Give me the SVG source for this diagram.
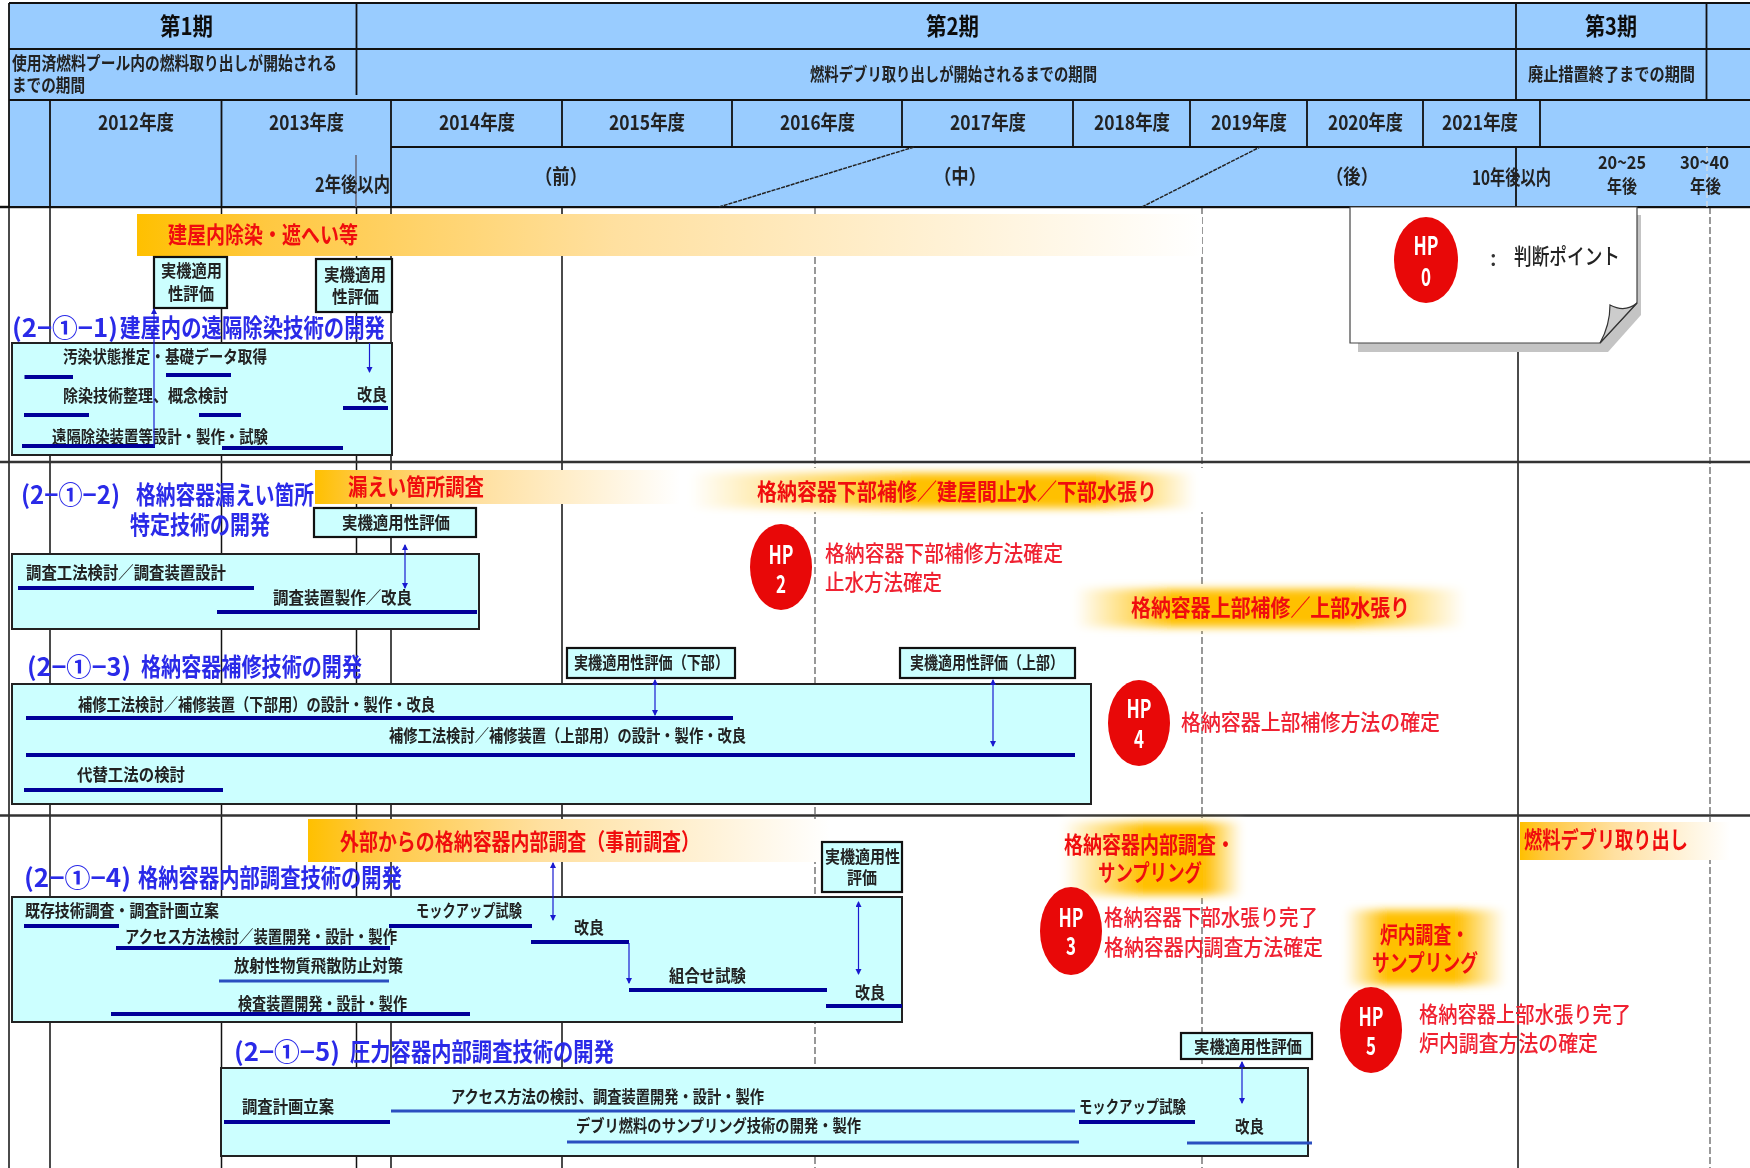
<svg xmlns="http://www.w3.org/2000/svg" width="1750" height="1168" viewBox="0 0 1750 1168">
<style>
text{font-family:"Noto Sans CJK JP","Noto Sans",sans-serif;dominant-baseline:central;filter:url(#soft);transform:translateY(-2px)}
.h{font-size:24px;font-weight:700;fill:#111}
.y{font-size:20px;font-weight:700;fill:#222}
.s{font-size:18px;font-weight:700;fill:#222}
.l{font-size:17px;font-weight:700;fill:#222}
.r{font-size:23px;font-weight:700;fill:#f01010}
.t{font-size:25px;font-weight:700;fill:#2a2ae8}
.d{font-size:22px;font-weight:500;fill:#f02030}
.hp{font-size:25px;font-weight:700;fill:#fff}
.grid{stroke:#111;stroke-width:1.5;fill:none}
.row{stroke:#333;stroke-width:2.5;fill:none}
.dash{stroke:#555;stroke-width:1.2;stroke-dasharray:7 3;fill:none}
.head{stroke:#111;stroke-width:1.8;fill:none}
.box{fill:#ccffff;stroke:#222;stroke-width:2}
.eval{fill:#ccffff;stroke:#111;stroke-width:2.2}
.bar{stroke:#000099;stroke-width:4;fill:none}
.lite{stroke:#2a4fc0;stroke-width:3;fill:none}
.arr{stroke:#1a1ad0;stroke-width:1.2;fill:none;marker-end:url(#ah)}
.arr2{stroke:#1a1ad0;stroke-width:1.2;fill:none;marker-end:url(#ah);marker-start:url(#ah)}
.hpc{fill:#e80808}
</style>
<defs>
<filter id="soft" x="-5%" y="-20%" width="110%" height="140%"><feGaussianBlur stdDeviation="0.45"/></filter>
<filter id="glow" x="-10%" y="-30%" width="120%" height="160%"><feGaussianBlur stdDeviation="4"/></filter>
<linearGradient id="gl"><stop offset="0" stop-color="#ffc000"/><stop offset=".12" stop-color="#ffc840"/><stop offset=".45" stop-color="#ffe0a0"/><stop offset="1" stop-color="#fff"/></linearGradient>
<linearGradient id="gc"><stop offset="0" stop-color="#fff"/><stop offset=".25" stop-color="#ffc000"/><stop offset=".7" stop-color="#ffc000"/><stop offset="1" stop-color="#fff"/></linearGradient>
<linearGradient id="gr"><stop offset="0" stop-color="#fff"/><stop offset=".45" stop-color="#ffc000"/><stop offset=".8" stop-color="#ffc000"/><stop offset="1" stop-color="#fff"/></linearGradient>
<marker id="ah" markerWidth="6" markerHeight="8" refX="5" refY="3" orient="auto-start-reverse" markerUnits="userSpaceOnUse"><path d="M0 0L6 3L0 6z" fill="#1a1ad0"/></marker>
</defs>
<rect width="1750" height="1168" fill="#fff"/>

<g id="grid">
<path class="grid" d="M9 207V1168M50 207V1168M221.500 207V1168M356.500 207V1168M391 207V1168M562 207V1168M1518 207V1168"/>
<path class="dash" d="M815 207V1168M1202 207V1168M1710 207V1168"/>
<path class="row" d="M0 207H1750M0 462H1750M0 815.500H1750"/>
</g>

<g id="header">
<rect x="9" y="3" width="1741" height="204" fill="#99ccff"/>
<path class="head" d="M9 3H1750M9 49H1750M9 100H1750M391 147H1750M0 207H1750M9 3V207M356.500 3V95M1516 3V100M1706.500 3V100M1516 147V207M50 100V207M221.500 100V207M391 100V207M562 100V147M732 100V147M902 100V147M1073 100V147M1190 100V147M1307 100V147M1423 100V147M1540 100V147"/>
<path d="M356 155V207" stroke="#667" stroke-width="1.500"/>
<path d="M1707 147V207" stroke="#ddd" stroke-width="1.200" stroke-dasharray="6 3"/>
<path d="M719 207L914 147M1142 207L1260 147" stroke="#222" stroke-width="1.500" stroke-dasharray="4 1"/>
<text class="h" x="160" y="26" textLength="53" lengthAdjust="spacingAndGlyphs">第1期</text>
<text class="h" x="926" y="26" textLength="53" lengthAdjust="spacingAndGlyphs">第2期</text>
<text class="h" x="1585" y="26" textLength="52" lengthAdjust="spacingAndGlyphs">第3期</text>
<text class="s" x="12" y="64" textLength="325" lengthAdjust="spacingAndGlyphs">使用済燃料プール内の燃料取り出しが開始される</text>
<text class="s" x="12" y="86" textLength="73" lengthAdjust="spacingAndGlyphs">までの期間</text>
<text class="s" x="810" y="75" textLength="287" lengthAdjust="spacingAndGlyphs">燃料デブリ取り出しが開始されるまでの期間</text>
<text class="s" x="1528" y="75" textLength="167" lengthAdjust="spacingAndGlyphs">廃止措置終了までの期間</text>
<text class="y" x="98" y="123" textLength="76" lengthAdjust="spacingAndGlyphs">2012年度</text>
<text class="y" x="269" y="123" textLength="75" lengthAdjust="spacingAndGlyphs">2013年度</text>
<text class="y" x="439" y="123" textLength="76" lengthAdjust="spacingAndGlyphs">2014年度</text>
<text class="y" x="609" y="123" textLength="76" lengthAdjust="spacingAndGlyphs">2015年度</text>
<text class="y" x="780" y="123" textLength="75" lengthAdjust="spacingAndGlyphs">2016年度</text>
<text class="y" x="950" y="123" textLength="76" lengthAdjust="spacingAndGlyphs">2017年度</text>
<text class="y" x="1094" y="123" textLength="76" lengthAdjust="spacingAndGlyphs">2018年度</text>
<text class="y" x="1211" y="123" textLength="76" lengthAdjust="spacingAndGlyphs">2019年度</text>
<text class="y" x="1328" y="123" textLength="75" lengthAdjust="spacingAndGlyphs">2020年度</text>
<text class="y" x="1442" y="123" textLength="76" lengthAdjust="spacingAndGlyphs">2021年度</text>
<text class="y" x="315" y="185" textLength="75" lengthAdjust="spacingAndGlyphs">2年後以内</text>
<text class="y" x="535" y="177" textLength="52" lengthAdjust="spacingAndGlyphs">（前）</text>
<text class="y" x="934" y="177" textLength="52" lengthAdjust="spacingAndGlyphs">（中）</text>
<text class="y" x="1326" y="177" textLength="52" lengthAdjust="spacingAndGlyphs">（後）</text>
<text class="y" x="1472" y="178" textLength="79" lengthAdjust="spacingAndGlyphs">10年後以内</text>
<text class="s" x="1598" y="163" textLength="48" lengthAdjust="spacingAndGlyphs">20~25</text>
<text class="s" x="1607" y="187" textLength="30" lengthAdjust="spacingAndGlyphs">年後</text>
<text class="s" x="1680" y="163" textLength="49" lengthAdjust="spacingAndGlyphs">30~40</text>
<text class="s" x="1690" y="187" textLength="31" lengthAdjust="spacingAndGlyphs">年後</text>
</g>

<g id="legend-card">
<path d="M1358 215H1641V315L1608 352H1358z" fill="#c4c4c4"/>
<path d="M1350 207H1637V303L1600 343H1350z" fill="#fff" stroke="#444" stroke-width="1.200"/>
<path d="M1637 303Q1625 313 1610 305Q1610 325 1600 343z" fill="#ccc" stroke="#333" stroke-width="1.200"/>
<ellipse class="hpc" cx="1426" cy="260" rx="32" ry="43"/>
<text class="hp" x="1413.500" y="246" textLength="25" lengthAdjust="spacingAndGlyphs">HP</text><text class="hp" x="1421" y="277" textLength="10" lengthAdjust="spacingAndGlyphs">0</text>
<text class="d" x="1490" y="258" style="fill:#333">:</text>
<text class="d" x="1514" y="256" textLength="106" lengthAdjust="spacingAndGlyphs" style="fill:#222">判断ポイント</text>
</g>

<g id="band-decon">
<rect x="137" y="214" width="1065" height="42" fill="url(#gl)"/>
<text class="r" x="168" y="235" textLength="190" lengthAdjust="spacingAndGlyphs">建屋内除染・遮へい等</text>
</g>
<g id="band-leak">
<rect x="315" y="470" width="365" height="34" fill="url(#gl)"/>
<text class="r" x="348" y="487" textLength="136" lengthAdjust="spacingAndGlyphs">漏えい箇所調査</text>
</g>
<g id="band-lower">
<rect x="680" y="468" width="530" height="44" fill="#fff"/>
<rect x="690" y="473" width="505" height="35" fill="url(#gr)" filter="url(#glow)"/>
<text class="r" x="757" y="492" textLength="400" lengthAdjust="spacingAndGlyphs">格納容器下部補修／建屋間止水／下部水張り</text>
</g>
<g id="band-upper">
<rect x="1065" y="584" width="410" height="47" fill="#fff"/>
<rect x="1075" y="589" width="390" height="38" fill="url(#gc)" filter="url(#glow)"/>
<text class="r" x="1131" y="608" textLength="279" lengthAdjust="spacingAndGlyphs">格納容器上部補修／上部水張り</text>
</g>
<g id="band-external">
<rect x="308" y="819" width="522" height="43" fill="url(#gl)"/>
<text class="r" x="340" y="842" textLength="360" lengthAdjust="spacingAndGlyphs">外部からの格納容器内部調査（事前調査）</text>
</g>
<g id="band-sampling">
<rect x="1050" y="818" width="205" height="80" fill="#fff"/>
<rect x="1062" y="822" width="180" height="73" fill="url(#gr)" filter="url(#glow)"/>
<text class="r" x="1064" y="845" textLength="171" lengthAdjust="spacingAndGlyphs">格納容器内部調査・</text>
<text class="r" x="1098" y="873" textLength="104" lengthAdjust="spacingAndGlyphs">サンプリング</text>
</g>
<g id="band-core">
<rect x="1338" y="905" width="175" height="84" fill="#fff"/>
<rect x="1345" y="910" width="160" height="75" fill="url(#gc)" filter="url(#glow)"/>
<text class="r" x="1380" y="935" textLength="89" lengthAdjust="spacingAndGlyphs">炉内調査・</text>
<text class="r" x="1372" y="963" textLength="106" lengthAdjust="spacingAndGlyphs">サンプリング</text>
</g>
<g id="band-debris">
<rect x="1520" y="822" width="210" height="38" fill="url(#gl)"/>
<text class="r" x="1524" y="840" textLength="164" lengthAdjust="spacingAndGlyphs">燃料デブリ取り出し</text>
</g>

<g id="task-1">
<text class="t" x="12" y="328"><tspan textLength="106" lengthAdjust="spacingAndGlyphs">(2−①−1)</tspan><tspan x="120" textLength="265" lengthAdjust="spacingAndGlyphs">建屋内の遠隔除染技術の開発</tspan></text>
<rect class="box" x="12" y="343" width="380" height="112"/>
<rect class="eval" x="154" y="257" width="73" height="51"/>
<text class="l" x="161" y="271" textLength="61" lengthAdjust="spacingAndGlyphs">実機適用</text>
<text class="l" x="168" y="294" textLength="46" lengthAdjust="spacingAndGlyphs">性評価</text>
<rect class="eval" x="316" y="259" width="76" height="53"/>
<text class="l" x="324" y="275" textLength="62" lengthAdjust="spacingAndGlyphs">実機適用</text>
<text class="l" x="332" y="297" textLength="47" lengthAdjust="spacingAndGlyphs">性評価</text>
<text class="l" x="63" y="357" textLength="204" lengthAdjust="spacingAndGlyphs">汚染状態推定・基礎データ取得</text>
<text class="l" x="63" y="396" textLength="165" lengthAdjust="spacingAndGlyphs">除染技術整理、概念検討</text>
<text class="l" x="357" y="395" textLength="30" lengthAdjust="spacingAndGlyphs">改良</text>
<text class="l" x="52" y="437" textLength="216" lengthAdjust="spacingAndGlyphs">遠隔除染装置等設計・製作・試験</text>
</g>

<g id="task-2">
<text class="t" x="21" y="495"><tspan textLength="99" lengthAdjust="spacingAndGlyphs">(2−①−2)</tspan><tspan x="136" textLength="178" lengthAdjust="spacingAndGlyphs">格納容器漏えい箇所</tspan></text>
<text class="t" x="130" y="525" textLength="140" lengthAdjust="spacingAndGlyphs">特定技術の開発</text>
<rect class="box" x="12" y="554" width="467" height="75"/>
<rect class="eval" x="314" y="508" width="162" height="29"/>
<text class="l" x="342" y="523" textLength="108" lengthAdjust="spacingAndGlyphs">実機適用性評価</text>
<text class="l" x="26" y="573" textLength="200" lengthAdjust="spacingAndGlyphs">調査工法検討／調査装置設計</text>
<text class="l" x="273" y="598" textLength="139" lengthAdjust="spacingAndGlyphs">調査装置製作／改良</text>
</g>

<g id="task-3">
<text class="t" x="27" y="667"><tspan textLength="104" lengthAdjust="spacingAndGlyphs">(2−①−3)</tspan><tspan x="141" textLength="221" lengthAdjust="spacingAndGlyphs">格納容器補修技術の開発</tspan></text>
<rect class="box" x="12" y="684" width="1079" height="120"/>
<rect class="eval" x="567" y="648" width="168" height="30"/>
<text class="l" x="574" y="663" textLength="155" lengthAdjust="spacingAndGlyphs">実機適用性評価（下部）</text>
<rect class="eval" x="900" y="648" width="175" height="30"/>
<text class="l" x="910" y="663" textLength="154" lengthAdjust="spacingAndGlyphs">実機適用性評価（上部）</text>
<text class="l" x="78" y="705" textLength="357" lengthAdjust="spacingAndGlyphs">補修工法検討／補修装置（下部用）の設計・製作・改良</text>
<text class="l" x="389" y="736" textLength="357" lengthAdjust="spacingAndGlyphs">補修工法検討／補修装置（上部用）の設計・製作・改良</text>
<text class="l" x="77" y="775" textLength="108" lengthAdjust="spacingAndGlyphs">代替工法の検討</text>
</g>

<g id="task-4">
<text class="t" x="24" y="878"><tspan textLength="107" lengthAdjust="spacingAndGlyphs">(2−①−4)</tspan><tspan x="138" textLength="264" lengthAdjust="spacingAndGlyphs">格納容器内部調査技術の開発</tspan></text>
<rect class="box" x="12" y="897" width="890" height="125"/>
<rect class="eval" x="822" y="842" width="80" height="50"/>
<text class="l" x="825" y="857" textLength="75" lengthAdjust="spacingAndGlyphs">実機適用性</text>
<text class="l" x="847" y="878" textLength="30" lengthAdjust="spacingAndGlyphs">評価</text>
<text class="l" x="25" y="911" textLength="194" lengthAdjust="spacingAndGlyphs">既存技術調査・調査計画立案</text>
<text class="l" x="125" y="937" textLength="272" lengthAdjust="spacingAndGlyphs">アクセス方法検討／装置開発・設計・製作</text>
<text class="l" x="416" y="911" textLength="106" lengthAdjust="spacingAndGlyphs">モックアップ試験</text>
<text class="l" x="574" y="928" textLength="30" lengthAdjust="spacingAndGlyphs">改良</text>
<text class="l" x="234" y="966" textLength="169" lengthAdjust="spacingAndGlyphs">放射性物質飛散防止対策</text>
<text class="l" x="669" y="976" textLength="77" lengthAdjust="spacingAndGlyphs">組合せ試験</text>
<text class="l" x="855" y="993" textLength="30" lengthAdjust="spacingAndGlyphs">改良</text>
<text class="l" x="238" y="1004" textLength="169" lengthAdjust="spacingAndGlyphs">検査装置開発・設計・製作</text>
</g>

<g id="task-5">
<text class="t" x="234" y="1052"><tspan textLength="106" lengthAdjust="spacingAndGlyphs">(2−①−5)</tspan><tspan x="350" textLength="264" lengthAdjust="spacingAndGlyphs">圧力容器内部調査技術の開発</tspan></text>
<rect class="box" x="221" y="1068" width="1087" height="88"/>
<rect class="eval" x="1181" y="1033" width="131" height="26"/>
<text class="l" x="1194" y="1047" textLength="108" lengthAdjust="spacingAndGlyphs">実機適用性評価</text>
<text class="l" x="242" y="1107" textLength="92" lengthAdjust="spacingAndGlyphs">調査計画立案</text>
<text class="l" x="451" y="1097" textLength="313" lengthAdjust="spacingAndGlyphs">アクセス方法の検討、調査装置開発・設計・製作</text>
<text class="l" x="1079" y="1107" textLength="107" lengthAdjust="spacingAndGlyphs">モックアップ試験</text>
<text class="l" x="576" y="1126" textLength="285" lengthAdjust="spacingAndGlyphs">デブリ燃料のサンプリング技術の開発・製作</text>
<text class="l" x="1235" y="1127" textLength="29" lengthAdjust="spacingAndGlyphs">改良</text>
</g>

<g id="hp2">
<ellipse class="hpc" cx="781" cy="567" rx="31" ry="43"/>
<text class="hp" x="768.500" y="555" textLength="25" lengthAdjust="spacingAndGlyphs">HP</text><text class="hp" x="776" y="584" textLength="10" lengthAdjust="spacingAndGlyphs">2</text>
<text class="d" x="825" y="553" textLength="238" lengthAdjust="spacingAndGlyphs">格納容器下部補修方法確定</text>
<text class="d" x="825" y="582" textLength="117" lengthAdjust="spacingAndGlyphs">止水方法確定</text>
</g>
<g id="hp4">
<ellipse class="hpc" cx="1139" cy="723" rx="31" ry="43"/>
<text class="hp" x="1126.500" y="709" textLength="25" lengthAdjust="spacingAndGlyphs">HP</text><text class="hp" x="1134" y="739" textLength="10" lengthAdjust="spacingAndGlyphs">4</text>
<text class="d" x="1181" y="722" textLength="259" lengthAdjust="spacingAndGlyphs">格納容器上部補修方法の確定</text>
</g>
<g id="hp3">
<ellipse class="hpc" cx="1071" cy="931" rx="31" ry="44"/>
<text class="hp" x="1058.500" y="918" textLength="25" lengthAdjust="spacingAndGlyphs">HP</text><text class="hp" x="1066" y="946" textLength="10" lengthAdjust="spacingAndGlyphs">3</text>
<text class="d" x="1104" y="917" textLength="214" lengthAdjust="spacingAndGlyphs">格納容器下部水張り完了</text>
<text class="d" x="1104" y="947" textLength="219" lengthAdjust="spacingAndGlyphs">格納容器内調査方法確定</text>
</g>
<g id="hp5">
<ellipse class="hpc" cx="1371" cy="1030" rx="31" ry="43"/>
<text class="hp" x="1358.500" y="1017" textLength="25" lengthAdjust="spacingAndGlyphs">HP</text><text class="hp" x="1366" y="1046" textLength="10" lengthAdjust="spacingAndGlyphs">5</text>
<text class="d" x="1419" y="1014" textLength="212" lengthAdjust="spacingAndGlyphs">格納容器上部水張り完了</text>
<text class="d" x="1419" y="1043" textLength="179" lengthAdjust="spacingAndGlyphs">炉内調査方法の確定</text>
</g>

<g id="connectors">
<path class="bar" d="M24.500 377H73M166 375H231M24 415H89M199 415H241M343 408H388M22 446H155M222 448H343"/>
<path class="bar" d="M18 588H254M217 612H477"/>
<path class="bar" d="M26 718H733M26 755H1075M24 790H223"/>
<path class="bar" d="M24 926H119M116 948H390M389 926H532M531 942H629M629 990H827M826 1006H902M111 1014H470"/>
<path class="lite" d="M219 981H389"/>
<path class="bar" d="M224 1122H390M1079 1122H1195"/>
<path class="lite" d="M391 1111H1075M567 1142H1079M1187 1143H1312"/>
<path class="arr" d="M154 447V309"/>
<path class="arr" d="M369.500 343V372"/>
<path class="arr2" d="M405 545V588"/>
<path class="arr2" d="M655 680V715"/>
<path class="arr2" d="M993 680V746"/>
<path class="arr2" d="M553 863V920"/>
<path class="arr2" d="M858.500 902V974"/>
<path class="arr" d="M629 943V983"/>
<path class="arr2" d="M1242 1062V1103"/>
</g>
</svg>
